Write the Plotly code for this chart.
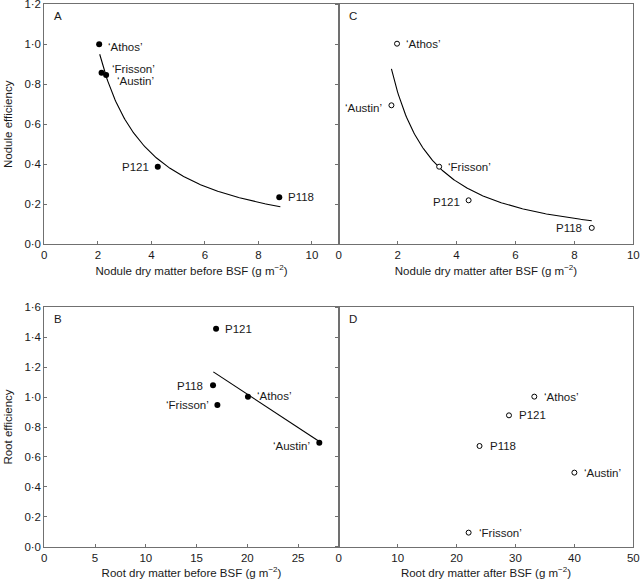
import numpy as np
import plotly.graph_objects as go

# ---------------- data ----------------
cultivars = ["‘Athos’", "‘Frisson’", "‘Austin’", "P121", "P118"]

# Panel A: nodule dry matter before BSF vs nodule efficiency
nod_dm_before = [2.05, 2.14, 2.31, 4.24, 8.78]
nod_eff_before = [1.00, 0.858, 0.847, 0.388, 0.235]

# Panel C: nodule dry matter after BSF vs nodule efficiency
nod_dm_after = [1.98, 3.41, 1.79, 4.41, 8.59]
nod_eff_after = [1.003, 0.388, 0.695, 0.220, 0.082]

# Panel B: root dry matter before BSF vs root efficiency
root_dm_before = [20.06, 17.05, 27.09, 16.92, 16.62]
root_eff_before = [1.003, 0.947, 0.695, 1.457, 1.079]

# Panel D: root dry matter after BSF vs root efficiency
root_dm_after = [33.2, 22.05, 40.0, 28.9, 23.9]
root_eff_after = [1.003, 0.094, 0.495, 0.878, 0.673]

# fitted regressions (a, b, xmin, xmax)
fit_A = (2.143, -1.118, 2.07, 8.82)   # y = a * x^b
fit_C = (1.847, -1.279, 1.79, 8.59)   # y = a * x^b
fit_B = (1.911, -0.0446, 16.65, 27.09)  # y = a + b*x

# ---------------- style ----------------
FONT = "Liberation Sans, Arial, sans-serif"
TXT = "#1a1a1a"
AX = "#707070"
FS = 11.5

# label offsets (px) per cultivar: (side, dx, dy) ; dy positive = down
lab_A = [("l", 7, 3), ("l", 8, -4), ("l", 9, 6), ("r", -7, 0), ("l", 7, 0)]
lab_C = [("l", 7, 0), ("l", 7, 0), ("r", -7, 3), ("r", -7, 2), ("r", -8, 0)]
lab_B = [("l", 7, -1), ("r", -6, 0), ("r", -7, 3), ("l", 7, 0), ("r", -8, 1)]
lab_D = [("l", 8, 0), ("l", 8, 0), ("l", 8, 0), ("l", 8, 0), ("l", 8, 0)]

fig = go.Figure()

panels = [
    ("x", "y", nod_dm_before, nod_eff_before, True, lab_A),
    ("x2", "y2", nod_dm_after, nod_eff_after, False, lab_C),
    ("x3", "y3", root_dm_before, root_eff_before, True, lab_B),
    ("x4", "y4", root_dm_after, root_eff_after, False, lab_D),
]

# fitted curves
xa = np.linspace(fit_A[2], fit_A[3], 200)
fig.add_trace(go.Scatter(x=xa, y=fit_A[0] * xa ** fit_A[1], mode="lines",
                         line=dict(color="black", width=1.1), xaxis="x", yaxis="y",
                         showlegend=False, hoverinfo="skip"))
xc = np.linspace(fit_C[2], fit_C[3], 200)
fig.add_trace(go.Scatter(x=xc, y=fit_C[0] * xc ** fit_C[1], mode="lines",
                         line=dict(color="black", width=1.1), xaxis="x2", yaxis="y2",
                         showlegend=False, hoverinfo="skip"))
xb = np.array([fit_B[2], fit_B[3]])
fig.add_trace(go.Scatter(x=xb, y=fit_B[0] + fit_B[1] * xb, mode="lines",
                         line=dict(color="black", width=1.1), xaxis="x3", yaxis="y3",
                         showlegend=False, hoverinfo="skip"))

annotations = []
for xr, yr, xs, ys, filled, labs in panels:
    marker = dict(size=6, color="black") if filled else \
        dict(size=5, color="white", line=dict(color="black", width=1))
    fig.add_trace(go.Scatter(x=xs, y=ys, mode="markers", marker=marker,
                             xaxis=xr, yaxis=yr, showlegend=False))
    for name, xv, yv, (side, dx, dy) in zip(cultivars, xs, ys, labs):
        annotations.append(dict(
            x=xv, y=yv, xref=xr, yref=yr, text=name, showarrow=False,
            xanchor="left" if side == "l" else "right", yanchor="middle",
            xshift=dx, yshift=-dy, font=dict(family=FONT, size=FS, color=TXT)))

# panel letters
for letter, xr, yr in [("A", "x", "y"), ("C", "x2", "y2"), ("B", "x3", "y3"), ("D", "x4", "y4")]:
    annotations.append(dict(x=0.027, y=0.95, xref=f"{xr} domain", yref=f"{yr} domain",
                            text=letter, showarrow=False, xanchor="left", yanchor="middle",
                            font=dict(family=FONT, size=FS, color=TXT)))

W, H = 640, 581
xl, xm, xr_ = 44.3 / W, 338.7 / W, 633.3 / W
top_dom = [1 - 244.3 / H, 1 - 4.3 / H]
bot_dom = [1 - 546.7 / H, 1 - 307.3 / H]


def dot(v):
    return f"{v:.1f}".replace(".", "·")


def xaxis(dom, rng, tickvals, title, anchor):
    return dict(domain=dom, range=rng, anchor=anchor, showline=True, mirror=True,
                linecolor=AX, linewidth=1, ticks="inside", ticklen=3, tickcolor=AX,
                tickvals=tickvals, ticktext=[str(v) for v in tickvals],
                showgrid=False, zeroline=False, automargin=False,
                ticklabeloverflow="allow",
                tickfont=dict(family=FONT, size=FS, color=TXT),
                title=dict(text=title, font=dict(family=FONT, size=FS, color=TXT), standoff=6))


def yaxis(dom, rng, tickvals, title, anchor, labels):
    d = dict(domain=dom, range=rng, anchor=anchor, showline=True, mirror=True,
             linecolor=AX, linewidth=1, ticklen=3, tickcolor=AX,
             tickvals=tickvals, showgrid=False, zeroline=False, automargin=False,
             ticklabeloverflow="allow",
             tickfont=dict(family=FONT, size=FS, color=TXT))
    if labels:
        d.update(ticks="inside", ticktext=[dot(v) for v in tickvals],
                 title=dict(text=title, font=dict(family=FONT, size=FS, color=TXT), standoff=9))
    else:
        d.update(ticks="outside", showticklabels=False)
    return d


ty_top = [0.0, 0.2, 0.4, 0.6, 0.8, 1.0, 1.2]
ty_bot = [0.0, 0.2, 0.4, 0.6, 0.8, 1.0, 1.2, 1.4, 1.6]

fig.update_layout(
    width=W, height=H, margin=dict(l=0, r=0, t=0, b=0),
    plot_bgcolor="white", paper_bgcolor="white", showlegend=False,
    xaxis=xaxis([xl, xm], [0, 11], [0, 2, 4, 6, 8, 10],
                "Nodule dry matter before BSF (g m<sup>−2</sup>)", "y"),
    xaxis2=xaxis([xm, xr_], [0, 10], [0, 2, 4, 6, 8, 10],
                 "Nodule dry matter after BSF (g m<sup>−2</sup>)", "y2"),
    xaxis3=xaxis([xl, xm], [0, 29], [0, 5, 10, 15, 20, 25],
                 "Root dry matter before BSF (g m<sup>−2</sup>)", "y3"),
    xaxis4=xaxis([xm, xr_], [0, 50], [0, 10, 20, 30, 40, 50],
                 "Root dry matter after BSF (g m<sup>−2</sup>)", "y4"),
    yaxis=yaxis(top_dom, [0, 1.2], ty_top, "Nodule efficiency", "x", True),
    yaxis2=yaxis(top_dom, [0, 1.2], ty_top, "", "x2", False),
    yaxis3=yaxis(bot_dom, [0, 1.6], ty_bot, "Root efficiency", "x3", True),
    yaxis4=yaxis(bot_dom, [0, 1.6], ty_bot, "", "x4", False),
    annotations=annotations,
)

fig.write_html("out.html", config={"displayModeBar": False},
               post_script="document.body.style.margin='0px';")
